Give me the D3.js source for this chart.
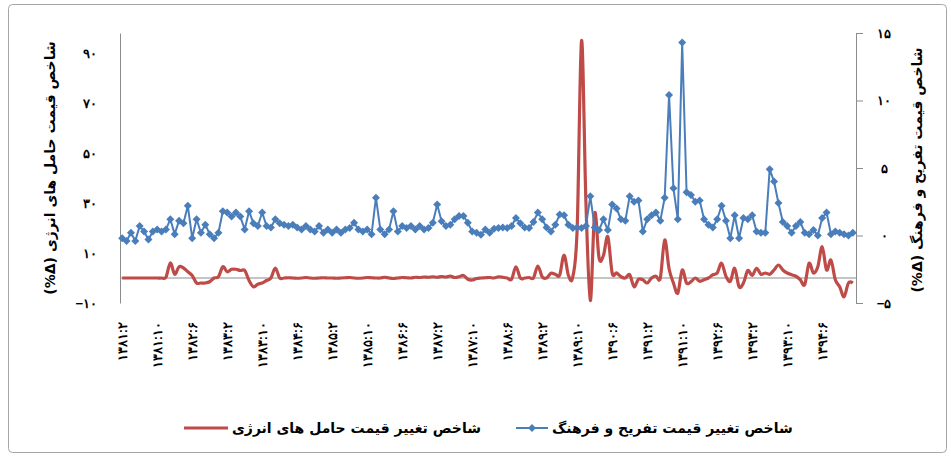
<!DOCTYPE html>
<html>
<head>
<meta charset="utf-8">
<script src="https://cdn.jsdelivr.net/npm/d3@7"></script>
<style>
  html, body { margin: 0; padding: 0; background: #fff; }
  svg { display: block; font-family: "DejaVu Sans", sans-serif; }
</style>
</head>
<body>
<svg id="chart" width="951" height="457"></svg>
<script>
// monthly Persian-calendar categories, 1381:2 onward (168 months)
const startYear = 1381, startMonth = 2, monthCount = 168;

// every 8th month is labelled on the axis
const tickLabels = [
  '1381:2', '1381:10', '1382:6', '1383:2', '1383:10', '1384:6', '1385:2',
  '1385:10', '1386:6', '1387:2', '1387:10', '1388:6', '1389:2', '1389:10',
  '1390:6', '1391:2', '1391:10', '1392:6', '1393:2', '1393:10', '1394:6'
];

// recreation & culture price index change (right axis, %)
const cultureValues = [
  -0.2, -0.4, 0.2, -0.4, 0.7, 0.3, -0.3, 0.3, 0.45, 0.3,
  0.45, 1.2, 0.1, 1.1, 0.9, 2.2, -0.2, 1.2, 0.2, 0.8,
  0.1, -0.2, 0.2, 1.8, 1.7, 1.4, 1.7, 1.4, 0.45, 1.8,
  0.9, 0.7, 1.7, 0.7, 0.6, 1.2, 0.9, 0.8, 0.7, 0.8,
  0.6, 0.45, 0.7, 0.45, 0.3, 0.7, 0.2, 0.45, 0.2, 0.45,
  0.2, 0.45, 0.55, 0.95, 0.45, 0.3, 0.45, 0.1, 2.8, 0.45,
  0.1, 0.45, 1.8, 0.3, 0.7, 0.55, 0.7, 0.45, 0.7, 0.45,
  0.55, 0.95, 2.3, 1.05, 0.7, 0.8, 1.2, 1.45, 1.45, 0.95,
  0.3, 0.2, 0.05, 0.45, 0.2, 0.5, 0.55, 0.6, 0.55, 0.7,
  1.3, 0.9, 0.6, 0.55, 1.0, 1.7, 1.2, 0.6, 0.3, 0.8,
  1.55, 1.5, 0.8, 0.55, 0.6, 0.55, 0.7, 2.9, 0.6, 0.4,
  1.2, 0.4, 2.3, 2.0, 1.2, 1.1, 2.9, 2.5, 2.6, 0.3,
  1.2, 1.5, 1.7, 1.1, 2.8, 10.4, 3.5, 1.2, 14.3, 3.2,
  3.0, 2.5, 2.6, 1.2, 0.8, 0.6, 1.2, 2.2, 1.1, -0.2,
  1.5, -0.2, 1.3, 1.2, 1.5, 0.3, 0.2, 0.2, 4.9, 4.0,
  2.4, 1.0, 0.7, 0.2, 0.7, 1.0, 0.2, 0.1, 0.4, 0.0,
  1.3, 1.7, 0.1, 0.3, 0.2, 0.1, 0.0, 0.2
];

// energy carriers price index change (left axis, %)
const energyValues = [
  0, 0, 0, 0, 0, 0, 0, 0, 0, 0,
  0.3, 6, 1.5, 4.5, 4, 2.5, 1, -2, -2, -2,
  -1.5, 0, 0.5, 4.5, 2.5, 3.5, 3.5, 3, 3, -1,
  -3.5, -2.5, -2, -1, 0, 4, 0, 0, 0.1, 0,
  -0.1, 0, 0.2, 0, -0.1, 0, 0.1, 0, 0, -0.1,
  0, 0.1, 0.2, 0, -0.1, 0, 0.2, 0.1, 0, 0,
  0.3, 0, -0.2, 0, 0.2, 0.1, 0, 0.3, 0.2, 0.4,
  0.3, 0.5, 0.3, 0.6, 0.4, 0.8, 0.2, 0.5, 1.0, -0.5,
  -0.8, -0.2, 0, 0.1, 0.2, 0, 0.5, 0.3, 0, -0.5,
  4.5, 0, 0, 0.2, 0, 4.8, 0.5, 0, 1.9, 1.5,
  1.2, 9.2, 1, 0.5, 20, 95, 30, -9, 26, 8,
  9, 16.5, 2, 2, 0.5, 0, 1.3, -3.5, -0.5, -0.7,
  -2, 0, 0.8, 0, 15.2, 3.7, -2, -6, 3.2, -2,
  -1.5, 0, -1.3, -0.7, 0, 1.3, 2, 5.9, 0.7, -1.3,
  3.9, -3.5, -2, 3, 1, 3.9, 1.5, 2, 1.5, 3.2,
  5.2, 3.2, 2, 1.3, 0.7, -0.7, -2.7, 5.9, 2, 4.5,
  12.5, 3.2, 7.2, -0.7, -3.5, -7.5, -2, -2
];

const leftTicks = [-10, 10, 30, 50, 70, 90];
const rightTicks = [-5, 0, 5, 10, 15];

const leftTitle = 'شاخص قیمت حامل های انرژی (Δ%)';
const rightTitle = 'شاخص قیمت تفریح و فرهنگ (Δ%)';
const energyName = 'شاخص تغییر قیمت حامل های انرژی';
const cultureName = 'شاخص تغییر قیمت تفریح و فرهنگ';

// Excel 2007 palette
const COLOR = {
  energy: '#be4b48',
  culture: '#4a7ebb',
  axis: '#8c8c8c',
  text: '#000',
};

const faDigits = s => String(s).replace(/\d/g, d => '۰۱۲۳۴۵۶۷۸۹'[d]).replace('-', '−');

const categories = [];
for (let k = 0; k < monthCount; k++) {
  const m = startMonth - 1 + k;
  categories.push(`${startYear + Math.floor(m / 12)}:${(m % 12) + 1}`);
}

const plot = { left: 120, right: 855, top: 33, bottom: 303 };

const svg = d3.select('#chart');

// chart frame
svg.append('rect')
  .attr('x', 8.5).attr('y', 4.5).attr('width', 938).attr('height', 448)
  .attr('rx', 4).attr('fill', 'none').attr('stroke', '#a6a6a6');

const x = d3.scaleBand().domain(categories).range([plot.left, plot.right]);
const cx = c => x(c) + x.bandwidth() / 2;
const yL = d3.scaleLinear().domain([-10, 98]).range([plot.bottom, plot.top]);
const yR = d3.scaleLinear().domain([-5, 15]).range([plot.bottom, plot.top]);

// left axis (line only, no ticks)
const gL = svg.append('g').attr('transform', `translate(${plot.left},0)`)
  .call(d3.axisLeft(yL).tickValues(leftTicks).tickSize(0).tickPadding(23).tickFormat(faDigits));
gL.select('.domain').attr('stroke', COLOR.axis);
gL.selectAll('text').attr('font-size', 13).attr('font-weight', 'bold').attr('fill', COLOR.text);

// right axis with outside ticks
const gR = svg.append('g').attr('transform', `translate(${plot.right + 1},0)`)
  .call(d3.axisRight(yR).tickValues(rightTicks).tickSizeInner(7).tickSizeOuter(7).tickFormat(faDigits));
gR.selectAll('path, line').attr('stroke', COLOR.axis);
gR.selectAll('text').attr('font-size', 13).attr('font-weight', 'bold')
  .attr('fill', COLOR.text).attr('x', 28).attr('text-anchor', 'middle');

// category axis line at zero of the left scale
svg.append('line')
  .attr('x1', plot.left).attr('x2', plot.right + 1)
  .attr('y1', yL(0)).attr('y2', yL(0))
  .attr('stroke', COLOR.axis).attr('stroke-width', 1.2);

// category labels at the bottom, rotated
const gX = svg.append('g').attr('transform', `translate(0,${plot.bottom})`)
  .call(d3.axisBottom(x).tickValues(tickLabels).tickSize(0).tickFormat(faDigits));
gX.select('.domain').remove();
gX.selectAll('text')
  .attr('transform', 'rotate(-90)')
  .attr('x', -19).attr('y', 0).attr('dy', '0.35em')
  .attr('text-anchor', 'end')
  .attr('font-size', 12.5).attr('font-weight', 'bold').attr('fill', COLOR.text);

// axis titles (right-to-left so the title starts at the top)
svg.append('text')
  .attr('transform', `translate(50,168) rotate(-90)`)
  .attr('direction', 'rtl').attr('text-anchor', 'middle').attr('dy', '0.35em')
  .attr('font-size', 14).attr('font-weight', 'bold')
  .text(leftTitle);
svg.append('text')
  .attr('transform', `translate(917,170) rotate(-90)`)
  .attr('direction', 'rtl').attr('text-anchor', 'middle').attr('dy', '0.35em')
  .attr('font-size', 14).attr('font-weight', 'bold')
  .text(rightTitle);

// energy series: smoothed red line
const energyLine = d3.line()
  .x((d, i) => cx(categories[i]))
  .y(d => yL(d))
  .curve(d3.curveCardinal.tension(0));
svg.append('path')
  .datum(energyValues)
  .attr('fill', 'none').attr('stroke', COLOR.energy)
  .attr('stroke-width', 3.2).attr('stroke-linejoin', 'round')
  .attr('d', energyLine);

// culture series: blue line with diamond markers
const cultureLine = d3.line()
  .x((d, i) => cx(categories[i]))
  .y(d => yR(d));
svg.append('path')
  .datum(cultureValues)
  .attr('fill', 'none').attr('stroke', COLOR.culture)
  .attr('stroke-width', 2).attr('stroke-linejoin', 'round')
  .attr('d', cultureLine);

const diamond = 'M0,-4L4,0L0,4L-4,0Z';
svg.append('g').selectAll('path')
  .data(cultureValues).join('path')
  .attr('d', diamond)
  .attr('transform', (d, i) => `translate(${cx(categories[i])},${yR(d)})`)
  .attr('fill', COLOR.culture);

// legend
const legendY = 428;
const lg = svg.append('g');
lg.append('line').attr('x1', 184).attr('x2', 228).attr('y1', legendY).attr('y2', legendY)
  .attr('stroke', COLOR.energy).attr('stroke-width', 3.2);
lg.append('text').attr('x', 232).attr('y', legendY).attr('dy', '0.35em')
  .attr('font-size', 14).attr('font-weight', 'bold').attr('text-anchor', 'start')
  .text(energyName);
lg.append('line').attr('x1', 516).attr('x2', 548).attr('y1', legendY).attr('y2', legendY)
  .attr('stroke', COLOR.culture).attr('stroke-width', 2);
lg.append('path').attr('d', diamond)
  .attr('transform', `translate(532,${legendY})`).attr('fill', COLOR.culture);
lg.append('text').attr('x', 552).attr('y', legendY).attr('dy', '0.35em')
  .attr('font-size', 14).attr('font-weight', 'bold').attr('text-anchor', 'start')
  .text(cultureName);
</script>
</body>
</html>
